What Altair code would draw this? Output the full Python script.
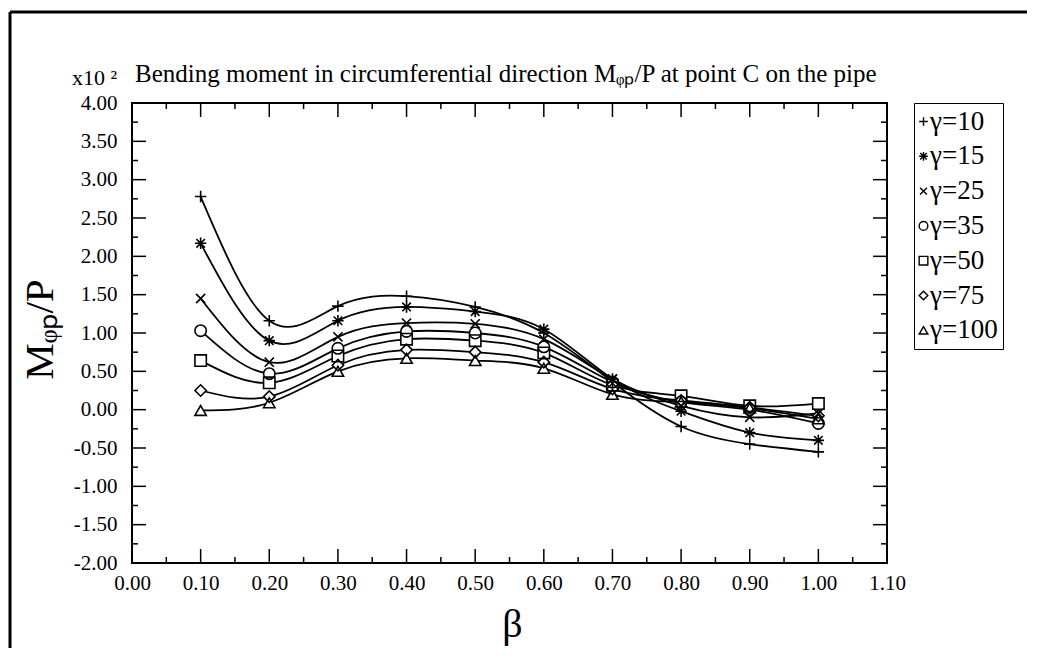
import altair as alt
import pandas as pd

FONT = "Liberation Serif"

# ---- data ----
beta = [0.1, 0.2, 0.3, 0.4, 0.5, 0.6, 0.7, 0.8, 0.9, 1.0]
gammas = ["γ=10", "γ=15", "γ=25", "γ=35", "γ=50", "γ=75", "γ=100"]
m_g10 = [2.78, 1.16, 1.35, 1.48, 1.34, 1.00, 0.36, -0.22, -0.45, -0.55]
m_g15 = [2.17, 0.90, 1.16, 1.34, 1.28, 1.05, 0.40, -0.02, -0.30, -0.40]
m_g25 = [1.45, 0.62, 0.95, 1.13, 1.12, 0.92, 0.40, 0.05, -0.10, -0.05]
m_g35 = [1.03, 0.47, 0.80, 1.02, 1.00, 0.82, 0.36, 0.10, 0.00, -0.18]
m_g50 = [0.64, 0.35, 0.70, 0.92, 0.90, 0.74, 0.32, 0.18, 0.05, 0.08]
m_g75 = [0.25, 0.17, 0.58, 0.78, 0.75, 0.62, 0.27, 0.12, 0.03, -0.08]
m_g100 = [-0.01, 0.09, 0.50, 0.67, 0.64, 0.54, 0.20, 0.10, 0.02, -0.12]
series = [m_g10, m_g15, m_g25, m_g35, m_g50, m_g75, m_g100]

x_major = [0.0, 0.1, 0.2, 0.3, 0.4, 0.5, 0.6, 0.7, 0.8, 0.9, 1.0, 1.1]
x_minor = [0.05, 0.15, 0.25, 0.35, 0.45, 0.55, 0.65, 0.75, 0.85, 0.95, 1.05]
y_major = [-2.0, -1.5, -1.0, -0.5, 0.0, 0.5, 1.0, 1.5, 2.0, 2.5, 3.0, 3.5, 4.0]
y_minor = [-1.75, -1.25, -0.75, -0.25, 0.25, 0.75, 1.25, 1.75, 2.25, 2.75, 3.25, 3.75]

title_text = "Bending moment in circumferential direction Mᵩₚ/P at point C on the pipe"
scale_text = "x10 ²"
y_title = "Mᵩₚ/P"

rows = []
for g, vals in zip(gammas, series):
    for b, v in zip(beta, vals):
        rows.append({"beta": b, "M": v, "gamma": g})
df = pd.DataFrame(rows)

# ---- styling ----
W, H = 755, 460
MAJ, MIN = 14, 6
xs = alt.Scale(domain=[0, 1.1], nice=False, zero=False)
ys = alt.Scale(domain=[-2, 4], nice=False, zero=False)
LBL = "replace(format(datum.value, '.2f'), '\u2212', '-')"

AX_X = alt.Axis(
    values=x_major, labelExpr=LBL, ticks=False, domain=False, grid=False,
    labelFont=FONT, labelFontSize=21, labelPadding=9, labelColor="black",
    labelFlush=False, labelOverlap=False,
    title="β", titleFont=FONT, titleFontSize=40, titleFontWeight="normal",
    titleColor="black", titleX=380, titleY=73, titleBaseline="alphabetic")
AX_Y = alt.Axis(
    values=y_major, labelExpr=LBL, ticks=False, domain=False, grid=False,
    labelFont=FONT, labelFontSize=21, labelPadding=15, labelColor="black",
    labelFlush=False, labelOverlap=False,
    title=y_title, titleFont=FONT, titleFontSize=41, titleFontWeight="normal",
    titleColor="black", titleX=-92, titleY=226, titleAngle=270,
    titleAlign="center", titleBaseline="middle")

plus = "M-1,0L1,0M0,-1L0,1"
star = "M-1,0L1,0M0,-1L0,1M-0.75,-0.75L0.75,0.75M-0.75,0.75L0.75,-0.75"
cross = "M-0.8,-0.8L0.8,0.8M-0.8,0.8L0.8,-0.8"
shape_range = [plus, star, cross, "circle", "square", "diamond", "triangle-up"]

lines = alt.Chart(df).mark_line(interpolate="natural", color="black", strokeWidth=1.8).encode(
    x=alt.X("beta:Q", scale=xs, axis=AX_X),
    y=alt.Y("M:Q", scale=ys, axis=AX_Y),
    detail="gamma:N",
)

# white interiors under hollow markers (one layer per series, no legend involvement)
underlays = [
    alt.Chart(df).transform_filter(alt.datum.gamma == g).mark_point(
        shape=s, filled=True, color="white", size=130, opacity=1
    ).encode(x=alt.X("beta:Q", scale=xs, axis=AX_X),
             y=alt.Y("M:Q", scale=ys, axis=AX_Y))
    for g, s in zip(gammas, shape_range)
]

points = alt.Chart(df).mark_point(filled=False, color="black", strokeWidth=1.6,
                                  size=130, opacity=1).encode(
    x=alt.X("beta:Q", scale=xs, axis=AX_X),
    y=alt.Y("M:Q", scale=ys, axis=AX_Y),
    shape=alt.Shape("gamma:N", sort=gammas,
                    scale=alt.Scale(domain=gammas, range=shape_range),
                    legend=alt.Legend(
                        title=None, orient="none", legendX=782, legendY=0,
                        strokeColor="black", padding=5,
                        labelFont=FONT, labelFontSize=27, labelColor="black",
                        labelExpr="datum.label + '\u2003\u2009'",
                        labelOffset={"expr": "-7"},
                        symbolOffset={"expr": "-9"},
                        rowPadding=6.8,
                        symbolSize=75, symbolStrokeWidth=1.4)),
)


def tick_layer(values, channel, v1, v2):
    d = pd.DataFrame({"t": values})
    base = alt.Chart(d).mark_rule(color="black", strokeWidth=1.5)
    if channel == "x":
        return base.encode(x=alt.X("t:Q", scale=xs, axis=AX_X),
                           y=alt.value(v1), y2=alt.value(v2))
    return base.encode(y=alt.Y("t:Q", scale=ys, axis=AX_Y),
                       x=alt.value(v1), x2=alt.value(v2))


ticks = [
    tick_layer(x_major, "x", H, H - MAJ),
    tick_layer(x_minor, "x", H, H - MIN),
    tick_layer(x_major, "x", 0, MAJ),
    tick_layer(x_minor, "x", 0, MIN),
    tick_layer(y_major, "y", 0, MAJ),
    tick_layer(y_minor, "y", 0, MIN),
    tick_layer(y_major, "y", W, W - MAJ),
    tick_layer(y_minor, "y", W, W - MIN),
]

one = alt.Data(values=[{"a": 1}])
frame_left = alt.Chart(one).mark_rule(color="black", strokeWidth=3).encode(
    x=alt.value(-122), y=alt.value(-91), y2=alt.value(600))
frame_top = alt.Chart(one).mark_rule(color="black", strokeWidth=3).encode(
    x=alt.value(-122), x2=alt.value(950), y=alt.value(-91))

title = alt.Chart(alt.Data(values=[{"t": title_text}])).mark_text(
    align="left", baseline="alphabetic", font=FONT, fontSize=25, color="black"
).encode(text="t:N", x=alt.value(3), y=alt.value(-21))

scale_lbl = alt.Chart(alt.Data(values=[{"t": scale_text}])).mark_text(
    align="right", baseline="alphabetic", font=FONT, fontSize=22, color="black"
).encode(text="t:N", x=alt.value(-15), y=alt.value(-18))

chart = alt.layer(
    lines, *ticks, *underlays, points, frame_left, frame_top, title, scale_lbl
).properties(
    width=W, height=H,
    autosize=alt.AutoSizeParams(type="none"),
    padding={"left": 124, "top": 95, "right": 140, "bottom": 85},
    background="white",
).configure_view(stroke="black", strokeWidth=2)

chart.save("out.html", embed_options={"renderer": "svg", "actions": False})
